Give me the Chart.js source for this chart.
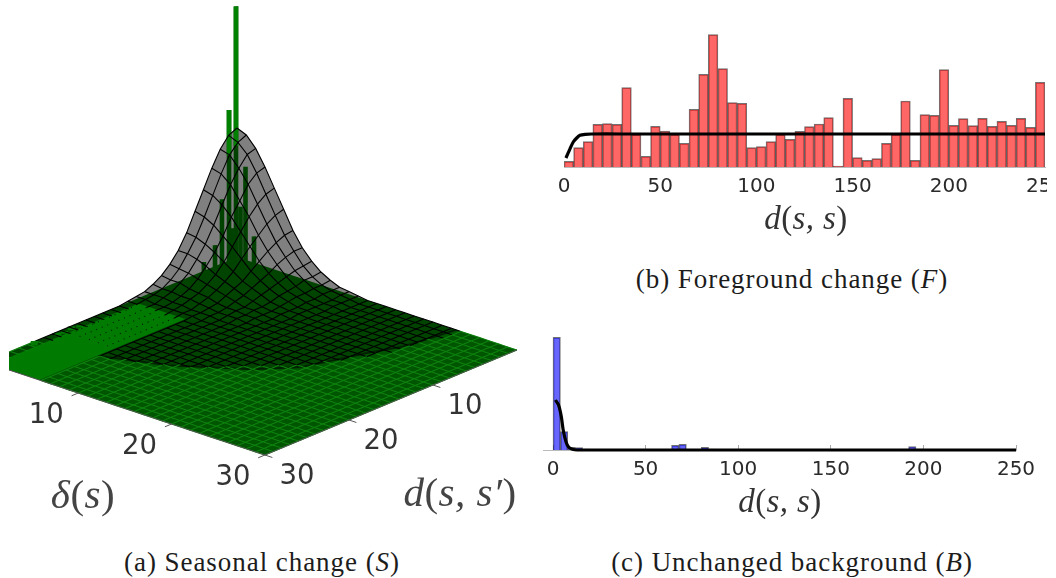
<!DOCTYPE html>
<html>
<head>
<meta charset="utf-8">
<script src="https://cdn.jsdelivr.net/npm/chart.js@4/dist/chart.umd.min.js"></script>
<style>
    html, body { margin: 0; padding: 0; background: #fff; overflow: hidden; width: 1056px; height: 578px; }
    canvas { position: absolute; }
    .tex { position: absolute; transform: translate(-50%, -50%); white-space: nowrap; font-family: "Liberation Serif", serif; color: #1c1c1c; }
    .cap { font-size: 27px; letter-spacing: 0.95px; }
    .lab { font-size: 33px; letter-spacing: 0.4px; color: #333; }
    .big { font-size: 41px; letter-spacing: 0.5px; color: #444; }
</style>
</head>
<body>
<canvas id="surfaceChart" width="521" height="520" style="left:9px;top:0"></canvas>
<canvas id="foregroundChart" width="502" height="190" style="left:545px;top:20px"></canvas>
<canvas id="backgroundChart" width="521" height="190" style="left:535px;top:320px"></canvas>

<div class="tex big" style="left:83px;top:494px"><i>δ</i>(<i>s</i>)</div>
<div class="tex big" style="left:460px;top:492px"><i>d</i>(<i>s, s′</i>)</div>
<div class="tex lab" style="left:806px;top:218px"><i>d</i>(<i>s, s</i>)</div>
<div class="tex lab" style="left:780px;top:501px"><i>d</i>(<i>s, s</i>)</div>
<div class="tex cap" style="left:262px;top:562px">(a) Seasonal change (<i>S</i>)</div>
<div class="tex cap" style="left:792px;top:279px">(b) Foreground change (<i>F</i>)</div>
<div class="tex cap" style="left:792px;top:562px">(c) Unchanged background (<i>B</i>)</div>

<script>
'use strict';

// histogram heights
const fgBinWidth = 5;
const fgCounts = [17, 58, 76, 128, 130, 128, 238, 98, 32, 122, 108, 98, 71, 173, 278, 397, 295, 193, 191, 58,
    61, 76, 98, 83, 107, 121, 129, 148, 3, 206, 28, 20, 25, 71, 98, 198, 20, 157, 155, 292,
    125, 145, 124, 146, 122, 137, 125, 146, 119, 254];
const fgCurveX = [1, 3, 4.8, 6.6, 8.3, 11, 14.4, 30, 250];
const fgCurveY = [27, 53, 75, 87, 95, 98, 99, 99, 99];

const bgBinWidth = 4;
const bgCounts = [338, 55, 8, 7, 3, 0, 0, 0, 0, 0, 0, 0, 1, 0, 0, 0, 14, 17, 0, 0,
    8, 3, 2, 2, 1, 0, 0, 0, 0, 0, 0, 0, 0, 0, 0, 0, 0, 0, 0, 0,
    0, 0, 0, 0, 0, 0, 0, 3, 10, 3, 0, 0, 0, 0, 0, 0, 0, 0, 0, 0, 0, 0];
const bgCurveX = [1.3, 3, 4.5, 5.5, 7, 8.5, 10.5, 13, 30, 250];
const bgCurveY = [150, 135, 100, 60, 25, 8, 2, 0, 0, 0];

const histTicks = [0, 50, 100, 150, 200, 250];

// surface height in percent of the peak, rows are delta, columns are d, zero past the table
const surfaceZ = [
    [100, 97, 89, 77, 63, 49, 35, 24, 16, 10, 6, 3, 2, 1, 0, 0],
    [97, 94, 87, 75, 61, 47, 34, 24, 15, 9, 5, 3, 2, 1, 0, 0],
    [89, 87, 79, 69, 56, 43, 31, 22, 14, 9, 5, 3, 1, 1, 0, 0],
    [77, 75, 69, 59, 49, 37, 27, 19, 12, 7, 4, 2, 1, 1, 0, 0],
    [63, 61, 56, 49, 40, 31, 22, 15, 10, 6, 4, 2, 1, 0, 0, 0],
    [49, 47, 43, 37, 31, 24, 17, 12, 8, 5, 3, 1, 1, 0, 0, 0],
    [35, 34, 31, 27, 22, 17, 12, 9, 6, 3, 2, 1, 1, 0, 0, 0],
    [24, 24, 22, 19, 15, 12, 9, 6, 4, 2, 1, 1, 0, 0, 0, 0],
    [16, 15, 14, 12, 10, 8, 6, 4, 2, 2, 1, 0, 0, 0, 0, 0],
    [10, 9, 9, 7, 6, 5, 3, 2, 2, 1, 1, 0, 0, 0, 0, 0],
    [6, 5, 5, 4, 4, 3, 2, 1, 1, 1, 0, 0, 0, 0, 0, 0],
    [3, 3, 3, 2, 2, 1, 1, 1, 0, 0, 0, 0, 0, 0, 0, 0],
    [2, 2, 1, 1, 1, 1, 1, 0, 0, 0, 0, 0, 0, 0, 0, 0],
    [1, 1, 1, 1, 0, 0, 0, 0, 0, 0, 0, 0, 0, 0, 0, 0]
];

// green columns: position on the floor and height, litFrom is where the column leaves the surface
const spikeDelta = [1, 1, 2, 1, 2.5, 0.5, 0.5, 1.5, 1];
const spikeD = [1.23, 2.06, 1.21, 2.9, 0.75, 3.17, 4.5, 1.25, 1.6];
const spikeZ = [200, 122, 78, 55, 24, 19, 9.5, 46, 29];
const spikeLitFrom = [92, 87, null, null, null, null, null, null, null];

const bumpDelta = [0.6, 0.6, 0.7, 0.6, 0.7];
const bumpD = [24.8, 22, 21.3, 20.4, 19.5];
const bumpZ = [3.6, 2.6, 2, 3, 1.6];

// where the floor changes colour
const rimDelta = [23.5, 23, 22.7, 21.5, 19.6, 17, 11.4, 7, 5.8];
const rimD = [0, 3.65, 5.5, 8.4, 14.1, 17, 20.8, 22.6, 23];

const axisTicks3d = [10, 20, 30];

function project(delta, d, z) {
    return { x: 237 + 9.33 * delta - 8.4 * d, y: 257 + 3.1 * delta + 3.5 * d - 1.29 * z };
}

function heightAt(i, j) {
    return (surfaceZ[i] && surfaceZ[i][j]) || 0;
}

function polygon(points, color) {
    return {
        data: points.concat([points[0]]),
        showLine: true,
        fill: 'shape',
        backgroundColor: color,
        borderWidth: 0,
        borderColor: color,
        pointRadius: 0,
        tension: 0
    };
}

function inBrightPatch(delta, d) {
    return delta > 0.8 && delta < 5.8 && d > 12.6;
}

function meshColor(delta, d) {
    if (inBrightPatch(delta, d)) {
        return 'rgba(0,0,0,0)';
    }
    return Math.hypot(delta, d) < 23.6 ? '#000' : '#0e820e';
}

function meshLine(points, colorOf, dashOf) {
    return {
        data: points,
        showLine: true,
        fill: false,
        borderColor: '#000',
        borderWidth: 1.1,
        pointRadius: 0,
        tension: 0,
        segment: {
            borderColor: ctx => colorOf(ctx.p0DataIndex),
            borderDash: ctx => (dashOf ? dashOf(ctx.p0DataIndex) : undefined)
        }
    };
}

function column(delta, d, z0, z1, w, color) {
    return polygon([
        project(delta - w, d + w, z0),
        project(delta - w, d + w, z1),
        project(delta + w, d - w, z1),
        project(delta + w, d - w, z0)
    ], color);
}

let layers = [];

// gray surface
for (let i = 0; i < 15; i++) {
    let strip = [];
    for (let j = 0; j < 16; j++) strip.push(project(i, j, heightAt(i, j)));
    for (let j = 15; j >= 0; j--) strip.push(project(i + 1, j, heightAt(i + 1, j)));
    layers.push(polygon(strip, '#808080'));
}

// columns behind the mesh
for (let s = 0; s < spikeZ.length; s++) {
    layers.push(column(spikeDelta[s], spikeD[s], 0, spikeZ[s], 0.13, '#004200'));
    if (spikeLitFrom[s] !== null) {
        layers.push(column(spikeDelta[s], spikeD[s], spikeLitFrom[s], spikeZ[s], 0.13, '#008200'));
    }
}

// floor
layers.push(polygon([project(0, 0, 0), project(30, 0, 0), project(30, 30, 0), project(0, 30, 0)], '#004400'));

let rim = rimDelta.map((v, k) => project(v, rimD[k], 0));
layers.push(polygon(rim.concat([project(5.8, 30, 0), project(30, 30, 0), project(30, 0, 0)]), '#005500'));
layers.push({ data: rim, showLine: true, fill: false, borderColor: '#002200', borderWidth: 2, pointRadius: 0, tension: 0 });
layers.push(polygon([project(0.8, 12.6, 0), project(5.8, 12.6, 0), project(5.8, 30, 0), project(0.8, 30, 0)], '#007a00'));

for (let b = 0; b < bumpZ.length; b++) {
    layers.push(column(bumpDelta[b], bumpD[b], 0, bumpZ[b], 0.2, '#007a00'));
}

// mesh, the bright patch only keeps sparse dark dots on its far half
for (let i = 0; i <= 30; i++) {
    let row = [];
    let col = [];
    for (let j = 0; j <= 30; j++) {
        row.push(project(i, j, heightAt(i, j)));
        col.push(project(j, i, heightAt(j, i)));
    }
    const dotted = j => inBrightPatch(i, j + 0.5) && j < 21;
    layers.push(meshLine(row, j => (dotted(j) ? 'rgba(0,0,0,0.8)' : meshColor(i, j + 0.5)), j => (dotted(j) ? [1, 5] : [])));
    layers.push(meshLine(col, j => meshColor(j + 0.5, i)));
}

// front edges and tick marks
function edgeLine(a, b) {
    return { data: [a, b], showLine: true, fill: false, borderColor: '#555', borderWidth: 1, pointRadius: 0 };
}
layers.push(edgeLine(project(0, 30, 0), project(30, 30, 0)));
layers.push(edgeLine(project(30, 30, 0), project(30, 0, 0)));
axisTicks3d.forEach(t => {
    layers.push(edgeLine(project(t, 30, 0), project(t, 30.8, 0)));
    layers.push(edgeLine(project(30, t, 0), project(30.8, t, 0)));
});

const axisLabels3d = {
    id: 'axisLabels3d',
    afterDraw(chart) {
        const ctx = chart.ctx;
        ctx.save();
        ctx.font = '27.5px "DejaVu Sans"';
        ctx.fillStyle = '#333';
        ctx.textAlign = 'center';
        ctx.textBaseline = 'middle';
        axisTicks3d.forEach(t => {
            let left = project(t, 30, 0);
            let right = project(30, t, 0);
            ctx.fillText(String(t), chart.scales.x.getPixelForValue(left.x) - 32, chart.scales.y.getPixelForValue(left.y) + 23);
            ctx.fillText(String(t), chart.scales.x.getPixelForValue(right.x) + 32, chart.scales.y.getPixelForValue(right.y) + 22);
        });
        ctx.restore();
    }
};

new Chart(document.getElementById('surfaceChart'), {
    type: 'scatter',
    data: { datasets: layers.reverse() },
    plugins: [axisLabels3d],
    options: {
        responsive: false,
        animation: false,
        layout: { padding: 0 },
        plugins: { legend: { display: false }, tooltip: { enabled: false } },
        scales: {
            x: { type: 'linear', display: false, min: 9, max: 530 },
            y: { type: 'linear', display: false, min: 0, max: 520, reverse: true }
        }
    }
});

function histogram(canvasId, cfg) {
    return new Chart(document.getElementById(canvasId), {
        data: {
            datasets: [{
                type: 'line',
                data: cfg.curveX.map((x, i) => ({ x: x, y: cfg.curveY[i] })),
                borderColor: '#000',
                borderWidth: 3.2,
                pointRadius: 0,
                tension: 0.25,
                clip: false,
                order: 0
            }, {
                type: 'bar',
                data: cfg.counts.map((y, i) => ({ x: (i + 0.5) * cfg.binWidth, y: y })),
                backgroundColor: cfg.color,
                borderColor: 'rgba(0,0,0,0.55)',
                borderWidth: 1,
                barPercentage: 1,
                categoryPercentage: 1,
                order: 1
            }]
        },
        options: {
            responsive: false,
            animation: false,
            layout: { padding: { left: cfg.padLeft, right: cfg.padRight, top: 10, bottom: 0 } },
            plugins: { legend: { display: false }, tooltip: { enabled: false } },
            scales: {
                x: {
                    type: 'linear',
                    offset: false,
                    min: cfg.xMin,
                    max: 250,
                    afterBuildTicks: scale => { scale.ticks = histTicks.map(v => ({ value: v })); },
                    afterFit: scale => {
                        scale.height = cfg.axisHeight;
                        scale.paddingLeft = 0;
                        scale.paddingRight = 0;
                    },
                    grid: { offset: false, drawOnChartArea: false, drawTicks: cfg.showTicks, tickLength: -5, color: '#aaa' },
                    border: { color: '#bbb' },
                    ticks: {
                        padding: cfg.tickPadding,
                        maxRotation: 0,
                        autoSkip: false,
                        color: '#2a2a2a',
                        font: { family: '"DejaVu Sans"', size: 20 }
                    }
                },
                y: { display: false, min: 0, max: cfg.yMax }
            }
        }
    });
}

histogram('foregroundChart', {
    counts: fgCounts, binWidth: fgBinWidth, curveX: fgCurveX, curveY: fgCurveY,
    color: 'rgba(255,0,0,0.6)', xMin: 0, yMax: 411,
    padLeft: 19, padRight: 2, axisHeight: 43, tickPadding: 8, showTicks: false
});

histogram('backgroundChart', {
    counts: bgCounts, binWidth: bgBinWidth, curveX: bgCurveX, curveY: bgCurveY,
    color: 'rgba(0,0,255,0.6)', xMin: -5, yMax: 360,
    padLeft: 8.74, padRight: 40, axisHeight: 60, tickPadding: 13, showTicks: true
});
</script>
</body>
</html>
